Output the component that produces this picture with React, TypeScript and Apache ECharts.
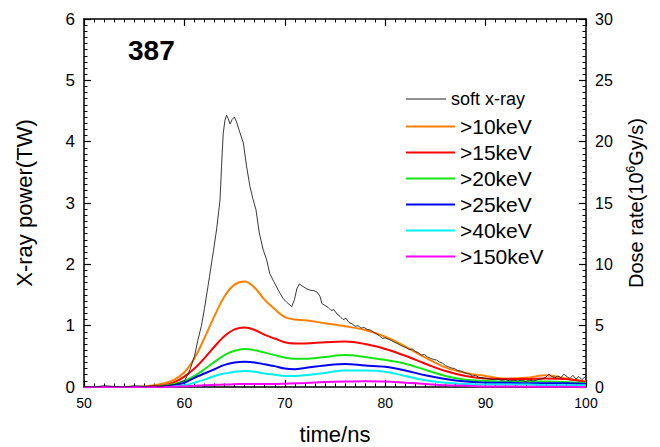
import React, { useEffect, useRef } from "react";
import * as echarts from "echarts";

const FONT = "'Liberation Sans', Arial, Helvetica, sans-serif";

// time axis (ns) for the smooth hard x-ray channels
const hardTime = [50, 54, 56, 57, 58, 59, 60, 61, 62, 63, 64, 65, 66, 67, 68, 69, 70, 71, 72, 74, 76, 78, 80, 82, 84, 86, 88, 90, 92, 94, 96, 98, 100];

const kev10 = [0, 0, 0.01, 0.03, 0.06, 0.12, 0.24, 0.47, 0.8, 1.16, 1.48, 1.67, 1.72, 1.62, 1.42, 1.27, 1.14, 1.1, 1.09, 1.04, 0.99, 0.93, 0.82, 0.66, 0.48, 0.32, 0.23, 0.18, 0.14, 0.15, 0.19, 0.14, 0.09];
const kev15 = [0, 0, 0, 0.01, 0.03, 0.08, 0.17, 0.3, 0.47, 0.66, 0.83, 0.94, 0.97, 0.93, 0.85, 0.79, 0.73, 0.71, 0.71, 0.73, 0.74, 0.7, 0.62, 0.51, 0.38, 0.26, 0.18, 0.14, 0.13, 0.13, 0.14, 0.13, 0.08];
const kev20 = [0, 0, 0, 0, 0.02, 0.05, 0.1, 0.18, 0.29, 0.41, 0.52, 0.59, 0.62, 0.6, 0.56, 0.52, 0.48, 0.46, 0.46, 0.49, 0.52, 0.49, 0.44, 0.38, 0.28, 0.18, 0.12, 0.1, 0.09, 0.09, 0.09, 0.08, 0.06];
const kev25 = [0, 0, 0, 0, 0.01, 0.03, 0.07, 0.15, 0.22, 0.29, 0.36, 0.4, 0.41, 0.4, 0.37, 0.34, 0.3, 0.29, 0.31, 0.35, 0.375, 0.35, 0.33, 0.27, 0.19, 0.13, 0.09, 0.07, 0.07, 0.06, 0.06, 0.06, 0.05];
const kev40 = [0, 0, 0, 0, 0, 0.01, 0.03, 0.07, 0.12, 0.18, 0.22, 0.25, 0.26, 0.25, 0.22, 0.2, 0.18, 0.18, 0.19, 0.23, 0.27, 0.27, 0.25, 0.18, 0.11, 0.07, 0.05, 0.04, 0.04, 0.04, 0.03, 0.03, 0.03];
const kev150 = [0, 0, 0, 0, 0, 0.005, 0.01, 0.02, 0.03, 0.035, 0.04, 0.045, 0.05, 0.05, 0.05, 0.05, 0.055, 0.06, 0.065, 0.08, 0.09, 0.095, 0.09, 0.07, 0.05, 0.03, 0.02, 0.01, 0.01, 0.005, 0.005, 0.005, 0];

// soft x-ray (noisy trace)
const softTime = [50, 51, 52, 53, 54, 55, 56, 57, 57.5, 58, 58.5, 59, 59.5, 60.05, 60.55, 61, 61.35, 61.7, 62, 62.5, 62.9, 63.2, 63.55, 63.7, 63.87, 64.04, 64.2, 64.35, 64.55, 64.75, 64.97, 65.2, 65.5, 65.87, 66.2, 66.53, 66.85, 67.13, 67.46, 67.86, 68.2, 68.5, 68.9, 69.35, 69.8, 70.2, 70.7, 70.95, 71.2, 71.45, 71.8, 72.2, 72.5, 72.9, 73.2, 73.5, 73.7, 74.0, 74.3, 74.6, 74.9, 75.2, 75.5, 75.8, 76.1, 76.4, 76.7, 77.0, 77.3, 77.6, 77.9, 78.2, 78.5, 78.8, 79.1, 79.4, 79.7, 80.0, 80.3, 80.6, 80.9, 81.2, 81.5, 81.8, 82.1, 82.4, 82.7, 83.0, 83.3, 83.6, 83.9, 84.2, 84.5, 84.8, 85.1, 85.4, 85.7, 86.0, 86.3, 86.6, 86.9, 87.2, 87.5, 87.8, 88.1, 88.4, 88.7, 89.0, 89.3, 89.6, 90.0, 90.4, 90.8, 91.2, 91.6, 92.0, 92.4, 92.8, 93.2, 93.6, 94.0, 94.4, 94.8, 95.2, 95.6, 96.0, 96.3, 96.6, 96.9, 97.2, 97.5, 97.8, 98.1, 98.4, 98.7, 99.0, 99.3, 99.6, 100];
const softPower = [0.01, 0.0, 0.02, 0.01, 0.0, 0.02, 0.01, 0.02, 0.01, 0.02, 0.03, 0.04, 0.07, 0.11, 0.28, 0.5, 0.77, 1.0, 1.28, 1.8, 2.23, 2.56, 3.05, 3.6, 4.14, 4.35, 4.43, 4.38, 4.29, 4.36, 4.4, 4.32, 4.16, 3.98, 3.59, 3.27, 3.05, 2.89, 2.51, 2.23, 2.07, 1.85, 1.72, 1.58, 1.45, 1.38, 1.31, 1.42, 1.6, 1.68, 1.64, 1.6, 1.58, 1.57, 1.55, 1.48, 1.36, 1.33, 1.3, 1.25, 1.26, 1.19, 1.15, 1.1, 1.12, 1.05, 1.03, 0.99, 1.0, 0.96, 0.97, 0.94, 0.93, 0.9, 0.87, 0.84, 0.79, 0.8, 0.78, 0.76, 0.73, 0.71, 0.68, 0.66, 0.64, 0.61, 0.62, 0.58, 0.56, 0.52, 0.53, 0.49, 0.47, 0.45, 0.44, 0.41, 0.39, 0.35, 0.33, 0.31, 0.3, 0.27, 0.26, 0.24, 0.22, 0.21, 0.18, 0.19, 0.16, 0.15, 0.14, 0.13, 0.12, 0.13, 0.11, 0.12, 0.1, 0.11, 0.1, 0.11, 0.09, 0.11, 0.1, 0.12, 0.13, 0.16, 0.21, 0.17, 0.15, 0.18, 0.15, 0.21, 0.17, 0.14, 0.19, 0.13, 0.17, 0.12, 0.18];

const hardNames = [">10keV", ">15keV", ">20keV", ">25keV", ">40keV", ">150keV"];
const hardValues = [kev10, kev15, kev20, kev25, kev40, kev150];
const hardColors = ["#ff8000", "#ff0000", "#14e614", "#0000f0", "#00f0f0", "#ff00ff"];

const xTicks = { min: 50, max: 100, interval: 10 };
const leftTicks = { min: 0, max: 6, interval: 1 };
const rightTicks = { min: 0, max: 30, interval: 5 };

const axisLine = { show: true, onZero: false, lineStyle: { color: "#000", width: 1.5 } };
const majorTick = { show: true, inside: true, length: 7, lineStyle: { color: "#000", width: 1.2 } };
const minorTick = { show: true, splitNumber: 10, length: 3.5, lineStyle: { color: "#000", width: 1 } };

export default function App() {
  const ref = useRef<HTMLDivElement>(null);
  useEffect(() => {
    if (!ref.current) return;
    const chart = echarts.init(ref.current, undefined, { renderer: "svg" });
    const series: any[] = [
      {
        name: "soft x-ray",
        type: "line",
        data: softTime.map((t, i) => [t, softPower[i]]),
        symbol: "none",
        lineStyle: { color: "#222", width: 0.9 },
        itemStyle: { color: "#222" },
        z: 3,
      },
      ...hardNames.map((n, k) => ({
        name: n,
        type: "line",
        smooth: 0.35,
        data: hardTime.map((t, i) => [t, hardValues[k][i]]),
        symbol: "none",
        lineStyle: { color: hardColors[k], width: 2 },
        itemStyle: { color: hardColors[k] },
        z: 2,
      })),
    ];
    chart.setOption({
      animation: false,
      backgroundColor: "#fff",
      grid: { left: 84, right: 74, top: 19, bottom: 60, containLabel: false, outerBoundsMode: "none" },
      legend: [
        {
          data: [{ name: "soft x-ray", textStyle: { fontSize: 18 } }],
          left: 401,
          top: 85,
          orient: "vertical",
          icon: "rect",
          itemWidth: 40,
          itemHeight: 1,
          itemGap: 0,
          textStyle: { fontFamily: FONT, color: "#000", fontSize: 18, lineHeight: 18 },
          selectedMode: false,
        },
        {
          data: hardNames,
          left: 401,
          top: 111,
          orient: "vertical",
          icon: "rect",
          itemWidth: 49,
          itemHeight: 2,
          itemGap: 5,
          textStyle: { fontFamily: FONT, color: "#000", fontSize: 21, lineHeight: 21 },
          selectedMode: false,
        },
      ],
      xAxis: [
        {
          type: "value",
          position: "bottom",
          ...xTicks,
          name: "time/ns",
          nameLocation: "middle",
          nameGap: 36,
          nameTextStyle: { fontFamily: FONT, fontSize: 22, color: "#000" },
          axisLine,
          axisTick: majorTick,
          minorTick,
          splitLine: { show: false },
          axisLabel: { fontFamily: FONT, fontSize: 14, color: "#000", margin: 9 },
        },
        {
          type: "value",
          position: "top",
          ...xTicks,
          axisLine,
          axisTick: majorTick,
          minorTick,
          splitLine: { show: false },
          axisLabel: { show: false },
        },
      ],
      yAxis: [
        {
          type: "value",
          position: "left",
          ...leftTicks,
          name: "X-ray power(TW)",
          nameLocation: "middle",
          nameRotate: 90,
          nameGap: 49,
          nameTextStyle: { fontFamily: FONT, fontSize: 22, color: "#000" },
          axisLine,
          axisTick: majorTick,
          minorTick,
          splitLine: { show: false },
          axisLabel: { fontFamily: FONT, fontSize: 17, color: "#000", margin: 9 },
        },
        {
          type: "value",
          position: "right",
          ...rightTicks,
          name: "Dose rate(10{sup|6}Gy/s)",
          nameLocation: "middle",
          nameRotate: 90,
          nameGap: 39,
          nameTextStyle: {
            fontFamily: FONT,
            fontSize: 20,
            color: "#000",
            rich: { sup: { fontFamily: FONT, fontSize: 12, color: "#000", verticalAlign: "top", padding: [0, 0, 10, 0] } },
          },
          axisLine,
          axisTick: majorTick,
          minorTick,
          splitLine: { show: false },
          axisLabel: { fontFamily: FONT, fontSize: 16, color: "#000", margin: 9 },
        },
      ],
      graphic: [
        {
          type: "text",
          left: 128,
          top: 36,
          style: { text: "387", font: `bold 28px ${FONT}`, fill: "#000" },
        },
      ],
      series,
    });
    return () => chart.dispose();
  }, []);
  return <div ref={ref} style={{ width: 660, height: 447, position: "absolute", left: 0, top: 0 }} />;
}
